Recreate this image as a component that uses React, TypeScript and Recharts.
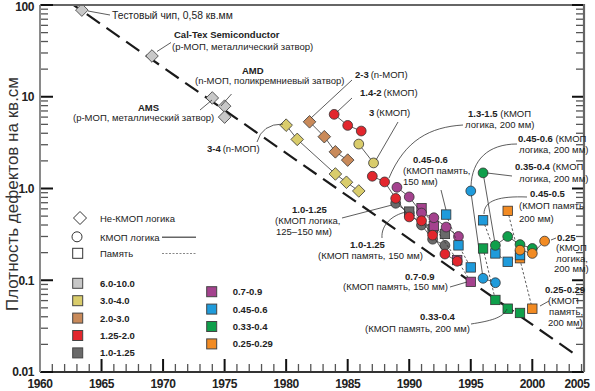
import React from 'react';
import { ComposedChart, Scatter, XAxis, YAxis } from 'recharts';

// axes
const yearTicks = [1960, 1965, 1970, 1975, 1980, 1985, 1990, 1995, 2000];
const yearEndLabel = '2005';
const densityTicks = [0.01, 0.1, 1, 10, 100];
const densityLabels = ['0.01', '0.1', '1.0', '10', '100'];
const minorSteps = [2, 3, 4, 5, 6, 7, 8, 9];

// feature size ranges, micron (legend)
const rangeNames = ['6.0-10.0', '3.0-4.0', '2.0-3.0', '1.25-2.0', '1.0-1.25', '0.7-0.9', '0.45-0.6', '0.33-0.4', '0.25-0.29'];
const rangeColors = ['#c8c8c8', '#d9cc6b', '#c98a5a', '#e2262d', '#6a6a6a', '#a4428e', '#1f9bdb', '#0f9f4b', '#f28b23'];

// trend line (year, defects per sq.cm)
const trendLine = [[1962.2, 112], [2003.8, 0.0145]];

// non-CMOS logic (diamonds)
const gray610 = [[1963.4, 88], [1969.1, 27.8], [1974.0, 9.7], [1975.0, 7.9], [1975.0, 6.0]];
const nmos34 = [[1980.0, 4.9], [1980.9, 3.43], [1984.0, 1.44], [1984.9, 1.17], [1985.9, 0.94]];
const nmos23 = [[1981.9, 5.33], [1983.1, 3.67], [1984.0, 2.51], [1985.0, 2.04]];

// CMOS logic (circles)
const cmos142 = [[1983.9, 6.43], [1985.0, 4.87], [1986.1, 4.23]];
const cmos3 = [[1985.9, 3.05], [1987.1, 1.9]];
const cmosRed = [[1987.0, 1.36], [1988.0, 1.18], [1988.9, 0.78], [1990.0, 0.49], [1991.0, 0.445], [1991.9, 0.31], [1992.9, 0.193], [1993.9, 0.161]];
const cmosGray = [[1988.9, 0.69], [1990.0, 0.54], [1991.0, 0.4], [1991.9, 0.28], [1992.9, 0.24]];
const cmosPurple = [[1989.0, 1.03], [1990.0, 0.81], [1991.0, 0.54], [1992.0, 0.48], [1993.0, 0.38], [1994.0, 0.3]];
const cmosBlue = [[1995.0, 0.94], [1996.0, 0.105], [1997.0, 0.094]];
const cmosGreen = [[1996.0, 1.48], [1997.0, 0.24], [1998.0, 0.3], [1999.0, 0.245], [2000.0, 0.222]];
const cmosOrange = [[1999.0, 0.213], [2000.0, 0.196], [2001.0, 0.267]];

// memory (squares)
const memGray = [[1990.0, 0.56], [1991.9, 0.36], [1992.9, 0.32]];
const memPurple = [[1991.0, 0.61], [1992.0, 0.39], [1993.9, 0.166], [1995.0, 0.096]];
const memBlue150 = [[1993.0, 0.52], [1994.0, 0.24], [1995.0, 0.138]];
const memGreen = [[1996.0, 0.222], [1997.0, 0.061], [1998.0, 0.049], [1999.0, 0.044]];
const memBlue200 = [[1996.0, 0.45], [1997.0, 0.196], [1998.0, 0.159], [1999.0, 0.188]];
const memOrange = [[1998.0, 0.57], [2000.0, 0.049]];
const memOrangeSingle = [[1999.0, 0.174]];

const pts = (rows: number[][]) => rows.map(([x, y]) => ({ x, y }));

type Kind = 'diamond' | 'circle' | 'square';
const series: { data: number[][]; kind: Kind; color: number; line: 'solid' | 'dash' | 'none' }[] = [
  { data: gray610, kind: 'diamond', color: 0, line: 'none' },
  { data: nmos34, kind: 'diamond', color: 1, line: 'solid' },
  { data: nmos23, kind: 'diamond', color: 2, line: 'solid' },
  { data: cmos142, kind: 'circle', color: 3, line: 'solid' },
  { data: cmos3, kind: 'circle', color: 1, line: 'solid' },
  { data: cmosGray, kind: 'circle', color: 4, line: 'solid' },
  { data: memGray, kind: 'square', color: 4, line: 'dash' },
  { data: memPurple, kind: 'square', color: 5, line: 'dash' },
  { data: cmosPurple, kind: 'circle', color: 5, line: 'solid' },
  { data: cmosRed, kind: 'circle', color: 3, line: 'solid' },
  { data: memBlue150, kind: 'square', color: 6, line: 'dash' },
  { data: cmosBlue, kind: 'circle', color: 6, line: 'solid' },
  { data: memGreen, kind: 'square', color: 7, line: 'dash' },
  { data: memOrange, kind: 'square', color: 8, line: 'dash' },
  { data: memOrangeSingle, kind: 'square', color: 8, line: 'none' },
  { data: memBlue200, kind: 'square', color: 6, line: 'dash' },
  { data: cmosGreen, kind: 'circle', color: 7, line: 'solid' },
  { data: cmosOrange, kind: 'circle', color: 8, line: 'solid' },
];

const FONT = '"Liberation Sans", Arial, sans-serif';
const INK = '#222';

function Marker({ cx, cy, kind, fill }: { cx?: number; cy?: number; kind: Kind; fill: string }) {
  if (cx == null || cy == null) return <g />;
  if (kind === 'circle') return <circle cx={cx} cy={cy} r={4.9} fill={fill} stroke="#333" strokeWidth={0.8} />;
  if (kind === 'square') return <rect x={cx - 4.7} y={cy - 4.7} width={9.4} height={9.4} fill={fill} stroke="#333" strokeWidth={0.8} />;
  const d = 6.3;
  return (
    <polygon
      points={`${cx},${cy - d} ${cx + d},${cy} ${cx},${cy + d} ${cx - d},${cy}`}
      fill={fill}
      stroke="#333"
      strokeWidth={0.8}
    />
  );
}

function DensityTick(props: any) {
  const { x, y, payload } = props;
  const v = payload?.value as number;
  const label = densityLabels[densityTicks.findIndex((t) => Math.abs(t - v) < t * 1e-6)] ?? '';
  // the top label would be clipped by the page edge otherwise
  const nudge = v >= 100 ? 2 : 0;
  return (
    <text x={x} y={y + nudge} dy="0.355em" textAnchor="end" fontFamily={FONT} fontSize={12} fontWeight={700} fill={INK} letterSpacing={-0.4}>
      {label}
    </text>
  );
}

type Seg = { b?: string; r?: string };
function Note({ x, y, lines, gap = 11, size = 9.5 }: { x: number[]; y: number; lines: Seg[]; gap?: number; size?: number }) {
  return (
    <g fontFamily={FONT} fontSize={size} fill={INK}>
      {lines.map((l, i) => (
        <text key={i} x={x[i]} y={y + i * gap}>
          {l.b && <tspan fontWeight={700}>{l.b}</tspan>}
          {l.r && <tspan>{l.r}</tspan>}
        </text>
      ))}
    </g>
  );
}

function Overlay() {
  const xPx = (yr: number) => 40 + (yr - 1960) * (544 / 44.2);
  const yPx = (v: number) => 5 + (2 - Math.log10(v)) * (367 / 4);

  const minor: number[] = [];
  densityTicks.slice(0, -1).forEach((d) => minorSteps.forEach((m) => minor.push(d * m)));
  const years: number[] = [];
  for (let yr = 1961; yr <= 2004; yr++) years.push(yr);

  const lead = { stroke: '#333', strokeWidth: 0.8, fill: 'none' };

  return (
    <svg width={595} height={391} style={{ position: 'absolute', left: 0, top: 0, pointerEvents: 'none' }}>
      {/* frame */}
      <line x1={40} y1={5} x2={585} y2={5} stroke="#666" strokeWidth={2.2} />
      <line x1={584} y1={4} x2={584} y2={372} stroke="#666" strokeWidth={2.2} />

      {/* axis ticks, drawn inward */}
      {minor.map((v, i) => (
        <g key={'m' + i}>
          <line x1={41} x2={48} y1={yPx(v)} y2={yPx(v)} stroke="#555" strokeWidth={1.3} />
          <line x1={583} x2={576} y1={yPx(v)} y2={yPx(v)} stroke="#555" strokeWidth={1.3} />
        </g>
      ))}
      {densityTicks.map((v, i) => (
        <g key={'M' + i}>
          <line x1={41} x2={53} y1={yPx(v)} y2={yPx(v)} stroke="#111" strokeWidth={2} />
          <line x1={583} x2={572} y1={yPx(v)} y2={yPx(v)} stroke="#111" strokeWidth={2} />
        </g>
      ))}
      {years.map((yr) => (
        <line
          key={yr}
          x1={xPx(yr)}
          x2={xPx(yr)}
          y1={371}
          y2={yr % 5 === 0 ? 359 : 364}
          stroke={yr % 5 === 0 ? '#111' : '#555'}
          strokeWidth={yr % 5 === 0 ? 2 : 1.3}
        />
      ))}
      <text x={577} y={388} textAnchor="middle" fontFamily={FONT} fontSize={12} fontWeight={700} fill={INK} letterSpacing={-0.4}>
        {yearEndLabel}
      </text>

      {/* y title */}
      <text transform="translate(18,194) rotate(-90)" textAnchor="middle" fontFamily={FONT} fontSize={17} fill="#333">
        Плотность дефектов на кв.см
      </text>

      {/* annotations */}
      <line x1={88} y1={11} x2={110} y2={15} {...lead} />
      <Note x={[112]} y={18.5} size={10.3} lines={[{ r: 'Тестовый чип, 0,58 кв.мм' }]} />

      <line x1={157} y1={51.5} x2={171} y2={42.5} {...lead} />
      <Note x={[174, 172]} y={37.5} gap={12} lines={[{ b: 'Cal-Tex Semiconductor' }, { r: '(р-МОП, металлический затвор)' }]} />

      <line x1={231.5} y1={94} x2={221} y2={106} {...lead} />
      <Note x={[242, 195]} y={74} gap={10} lines={[{ b: 'AMD' }, { r: '(n-МОП, поликремниевый затвор)' }]} />

      <line x1={200} y1={110} x2={212} y2={100} {...lead} />
      <Note x={[138, 73]} y={110.5} gap={10} lines={[{ b: 'AMS' }, { r: '(р-МОП, металлический затвор)' }]} />

      <path d="M 257 142 Q 262 124 283 124" {...lead} />
      <Note x={[207]} y={152.4} lines={[{ b: '3-4', r: '\u2009(n-МОП)' }]} />

      <line x1={352} y1={80} x2={311} y2={118} {...lead} />
      <Note x={[355]} y={78.4} lines={[{ b: '2-3', r: '\u2009(n-МОП)' }]} />

      <line x1={352} y1={98} x2={337} y2={112} {...lead} />
      <Note x={[360]} y={96.1} lines={[{ b: '1.4-2', r: '\u2009(КМОП)' }]} />

      <line x1={398} y1={122} x2={376} y2={160} {...lead} />
      <Note x={[369]} y={116.1} lines={[{ b: '3', r: '\u2009(КМОП)' }]} />

      <path d="M 463 125 C 430 127, 405 140, 389 178" {...lead} />
      <Note x={[468, 465]} y={117.4} lines={[{ b: '1.3-1.5', r: ' (КМОП' }, { r: 'логика, 200 мм)' }]} />

      <path d="M 517 144 C 488 144, 472 160, 471 186" {...lead} />
      <Note x={[518, 519]} y={141.7} gap={11.7} lines={[{ b: '0.45-0.6', r: ' (КМОП' }, { r: 'логика, 200 мм)' }]} />

      <line x1={487} y1={173} x2={512} y2={176} {...lead} />
      <Note x={[515, 519]} y={170} gap={12.4} lines={[{ b: '0.35-0.4', r: ' (КМОП' }, { r: 'логика, 200 мм)' }]} />

      <line x1={441} y1={190} x2={446} y2={210} {...lead} />
      <Note x={[413, 403, 403]} y={163.4} gap={11} lines={[{ b: '0.45-0.6' }, { r: '(КМОП память,' }, { r: '150 мм)' }]} />

      <line x1={342} y1={218} x2={392} y2={205} {...lead} />
      <Note x={[292, 275, 276]} y={212.7} gap={11.2} lines={[{ b: '1.0-1.25' }, { r: '(КМОП логика,' }, { r: '125–150 мм)' }]} />

      <path d="M 382 238 C 381 225, 392 215, 406 212" {...lead} />
      <Note x={[350, 318]} y={248.4} gap={10.5} lines={[{ b: '1.0-1.25' }, { r: '(КМОП память, 150 мм)' }]} />

      <line x1={450} y1={287} x2={467} y2={282} {...lead} />
      <Note x={[405, 343]} y={280} gap={10.3} lines={[{ b: '0.7-0.9' }, { r: '(КМОП память, 150 мм)' }]} />

      <path d="M 471 324 C 490 321, 503 318, 507 309" {...lead} />
      <Note x={[420, 365]} y={320} gap={11.7} lines={[{ b: '0.33-0.4' }, { r: '(КМОП память, 200 мм)' }]} />

      <path d="M 527 197 C 500 196, 484 200, 484 214" {...lead} />
      <Note x={[530, 519, 519]} y={196.7} gap={12.5} lines={[{ b: '0.45-0.5' }, { r: '(КМОП память' }, { r: '200 мм)' }]} />

      <line x1={551} y1={240} x2={556} y2={238} {...lead} />
      <Note x={[557, 556, 556, 554]} y={240.7} gap={10.4} lines={[{ b: '0.25' }, { r: '(КМОП' }, { r: 'логика,' }, { r: '200 мм)' }]} />

      <line x1={540} y1={306} x2={549} y2={301} {...lead} />
      <Note x={[545, 548, 549, 548]} y={293.4} gap={10.8} lines={[{ b: '0.25-0.29' }, { r: '(КМОП' }, { r: 'память,' }, { r: '200 мм)' }]} />

      {/* legend */}
      <g fontFamily={FONT} fontSize={9.5} fill={INK}>
        <polygon points="80,211.5 86.5,218 80,224.5 73.5,218" fill="#fff" stroke="#333" strokeWidth={1} />
        <text x={100} y={221.5}>Не-КМОП логика</text>
        <circle cx={77} cy={236.8} r={5} fill="#fff" stroke="#333" strokeWidth={1} />
        <text x={100} y={240.5}>КМОП логика</text>
        <line x1={162} x2={196} y1={237.3} y2={237.3} stroke="#666" strokeWidth={1.6} />
        <rect x={72.7} y={248.3} width={10} height={10} fill="#fff" stroke="#333" strokeWidth={1} />
        <text x={100} y={256.8}>Память</text>
        <line x1={162} x2={196} y1={253.5} y2={253.5} stroke="#888" strokeWidth={1} strokeDasharray="2 1.5" />
        {rangeNames.map((name, i) => {
          const col = i < 5 ? 0 : 1;
          const row = col === 0 ? i : i - 5;
          const cx = col === 0 ? 77.7 : 211.7;
          const cy = (col === 0 ? 283.3 : 291.7) + row * 17.4;
          return (
            <g key={name}>
              <rect x={cx - 5} y={cy - 5} width={10} height={10} fill={rangeColors[i]} stroke="#444" strokeWidth={1} />
              <text x={col === 0 ? 100 : 232.7} y={cy + 3.4} fontWeight={700}>
                {name}
              </text>
            </g>
          );
        })}
      </g>
    </svg>
  );
}

export default function App() {
  return (
    <div style={{ position: 'relative', width: 595, height: 391, background: '#fff' }}>
      <style>{'body{margin:0}'}</style>
      <ComposedChart width={595} height={391} margin={{ top: 5, right: 11, left: 0, bottom: 0 }}>
        <XAxis
          type="number"
          dataKey="x"
          domain={[1960, 2004.2]}
          ticks={yearTicks}
          interval={0}
          allowDataOverflow
          height={19}
          tickLine={false}
          tickSize={4}
          tickMargin={3.5}
          axisLine={{ stroke: '#333', strokeWidth: 2 }}
          tick={{ fontSize: 12, fontWeight: 700, fill: INK, fontFamily: FONT, letterSpacing: -0.4 }}
        />
        <YAxis
          type="number"
          dataKey="y"
          scale="log"
          domain={[0.01, 100]}
          ticks={densityTicks}
          interval={0}
          allowDataOverflow
          width={40}
          tickLine={false}
          tickSize={3}
          tickMargin={3}
          axisLine={{ stroke: '#8a8a8a', strokeWidth: 2 }}
          tick={DensityTick}
        />
        <Scatter
          data={pts(trendLine)}
          isAnimationActive={false}
          line={{ stroke: '#1a1a1a', strokeWidth: 2.2, strokeDasharray: '16 8' }}
          lineType="joint"
          shape={() => <g />}
        />
        {series.map((s, i) => (
          <Scatter
            key={i}
            data={pts(s.data)}
            isAnimationActive={false}
            lineType="joint"
            line={
              s.line === 'none'
                ? false
                : { stroke: '#333', strokeWidth: 0.8, strokeDasharray: s.line === 'dash' ? '2.5 2' : undefined }
            }
            shape={(p: any) => <Marker cx={p.cx} cy={p.cy} kind={s.kind} fill={rangeColors[s.color]} />}
          />
        ))}
      </ComposedChart>
      <Overlay />
    </div>
  );
}
